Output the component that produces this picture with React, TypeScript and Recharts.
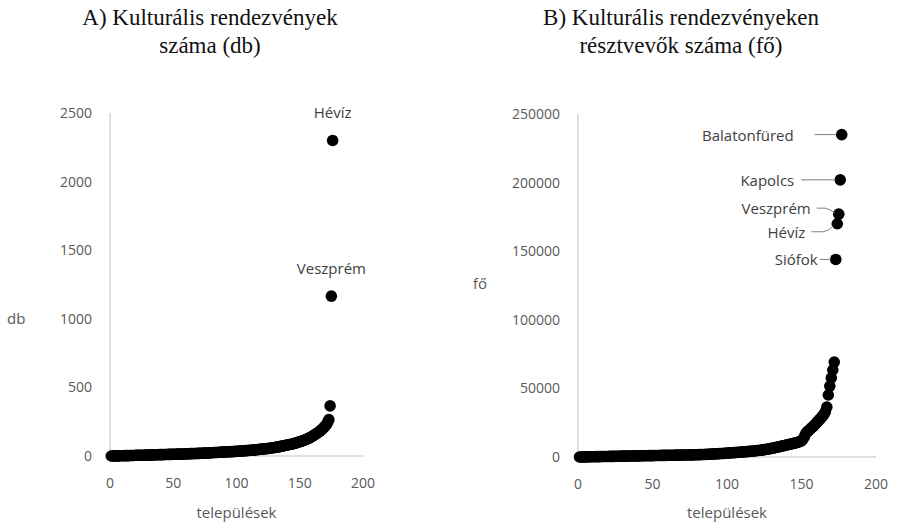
import React from 'react';
import { ScatterChart, Scatter, XAxis, YAxis, Label } from 'recharts';

// A) number of cultural events per settlement, sorted ascending (db)
const dbValues = [
  0, 0, 0, 1, 1, 1, 1, 2, 2, 2,
  2, 3, 3, 3, 3, 4, 4, 4, 4, 5,
  5, 5, 5, 6, 6, 6, 6, 7, 7, 7,
  7, 8, 8, 8, 8, 9, 9, 9, 10, 10,
  10, 10, 11, 11, 11, 12, 12, 12, 12, 13,
  13, 13, 14, 14, 14, 14, 15, 15, 15, 16,
  16, 16, 17, 17, 17, 18, 18, 18, 19, 19,
  19, 20, 20, 21, 21, 22, 22, 23, 23, 24,
  24, 25, 25, 26, 26, 27, 27, 28, 28, 29,
  29, 30, 30, 31, 31, 32, 32, 33, 34, 34,
  35, 35, 36, 37, 37, 38, 39, 39, 40, 41,
  42, 42, 43, 44, 45, 46, 47, 48, 49, 50,
  51, 52, 53, 54, 55, 56, 58, 59, 60, 62,
  63, 65, 66, 68, 70, 72, 74, 76, 78, 80,
  82, 84, 86, 88, 90, 92, 95, 98, 101, 104,
  107, 110, 113, 117, 121, 125, 129, 134, 139, 144,
  150, 156, 162, 168, 175, 182, 190, 198, 207, 217,
  228, 245, 265, 365, 1165, 2300,
];
const dbTopNames = ['Veszprém', 'Hévíz'];

// B) participants per settlement, sorted ascending (fő)
const foValues = [
  0, 0, 50, 80, 100, 120, 150, 170, 190, 210,
  230, 250, 270, 290, 310, 330, 350, 370, 390, 410,
  430, 450, 470, 490, 520, 550, 570, 590, 610, 630,
  650, 670, 690, 710, 730, 750, 770, 790, 810, 830,
  850, 870, 890, 910, 930, 950, 970, 990, 1010, 1030,
  1050, 1070, 1090, 1110, 1130, 1150, 1170, 1190, 1210, 1230,
  1250, 1270, 1290, 1310, 1330, 1350, 1370, 1390, 1410, 1430,
  1450, 1470, 1490, 1510, 1530, 1550, 1580, 1610, 1640, 1670,
  1700, 1740, 1780, 1820, 1870, 1920, 1970, 2020, 2080, 2140,
  2200, 2260, 2320, 2380, 2450, 2520, 2590, 2660, 2740, 2820,
  2900, 2980, 3060, 3140, 3220, 3300, 3380, 3460, 3540, 3600,
  3700, 3800, 3900, 4000, 4100, 4200, 4300, 4420, 4540, 4660,
  4780, 4900, 5050, 5200, 5350, 5500, 5700, 5900, 6100, 6300,
  6500, 6750, 7000, 7250, 7500, 7750, 8000, 8250, 8500, 8750,
  9000, 9250, 9500, 9750, 10000, 10300, 10600, 10900, 11300, 11800,
  13000, 15000, 17500, 18500, 19500, 20500, 21500, 22500, 23500, 24800,
  26000, 27200, 28400, 29600, 31000, 33000, 36400,
  45200, 51700, 57600, 63400, 69200,
  144000, 170000, 177000, 202000, 235000,
];
const foTopNames = ['Siófok', 'Hévíz', 'Veszprém', 'Kapolcs', 'Balatonfüred'];

const xTicks = [0, 50, 100, 150, 200];
const dbTicks = [0, 500, 1000, 1500, 2000, 2500];
const foTicks = [0, 50000, 100000, 150000, 200000, 250000];

const toPoints = (values: number[], names: string[]) =>
  values.map((v, i) => {
    const k = i - (values.length - names.length);
    return { x: i + 1, y: v, name: k >= 0 ? names[k] : '' };
  });

const dbData = toPoints(dbValues, dbTopNames);
const foData = toPoints(foValues, foTopNames);

const FONT = '"Open Sans", "Noto Sans", sans-serif';
const TICK = { fill: '#595959', fontSize: 14, fontFamily: FONT };
const AXIS = { stroke: '#bfbfbf' };
const R = 5.8;

// label placement of named points on B (relative to the dot)
const foCallouts: Record<string, { tx: number; ty: number; path: string }> = {
  'Balatonfüred': { tx: -48, ty: 0, path: 'M -27 0 L -6 0' },
  'Kapolcs': { tx: -46, ty: 0, path: 'M -39 0 L -5 0' },
  'Veszprém': { tx: -28, ty: -6, path: 'M -22 -6 L -14 -6 Q -8 -5 -4 -1' },
  'Hévíz': { tx: -32, ty: 8, path: 'M -26 8 L -14 8 Q -8 7 -4 2' },
  'Siófok': { tx: -18, ty: 0, path: 'M -16 0 L -5 0' },
};

const DotAbove = (p: any) => (
  <g>
    <circle cx={p.cx} cy={p.cy} r={R} fill="#000" />
    {p.payload.name && (
      <text x={p.cx} y={p.cy - 28} textAnchor="middle" dominantBaseline="central"
        fontSize={15} fontFamily={FONT} fill="#404040">{p.payload.name}</text>
    )}
  </g>
);

const DotCallout = (p: any) => {
  const c = foCallouts[p.payload.name];
  return (
    <g>
      <circle cx={p.cx} cy={p.cy} r={R} fill="#000" />
      {c && (
        <g transform={`translate(${p.cx},${p.cy})`}>
          <path d={c.path} stroke="#7f7f7f" strokeWidth={1} fill="none" />
          <text x={c.tx} y={c.ty} textAnchor="end" dominantBaseline="central"
            fontSize={15} fontFamily={FONT} fill="#404040">{p.payload.name}</text>
        </g>
      )}
    </g>
  );
};

const titleStyle: React.CSSProperties = {
  position: 'absolute',
  top: 4,
  width: 400,
  textAlign: 'center',
  fontFamily: '"Liberation Serif", "Times New Roman", serif',
  fontSize: 23,
  lineHeight: '28px',
  color: '#111',
};

export default function App() {
  return (
    <div style={{ position: 'fixed', left: 0, top: 0, width: 898, height: 522, background: '#fff', overflow: 'hidden' }}>
      <div style={{ ...titleStyle, left: 210 - 200 }}>A) Kulturális rendezvények<br />száma (db)</div>
      <div style={{ ...titleStyle, left: 681 - 200 }}>B) Kulturális rendezvényeken<br />résztvevők száma (fő)</div>

      <div style={{ position: 'absolute', left: 0, top: 0 }}>
        <ScatterChart width={449} height={522} margin={{ top: 113, right: 86, bottom: 0, left: 0 }}>
          <XAxis type="number" dataKey="x" domain={[0, 200]} ticks={xTicks} tickLine={false}
            axisLine={AXIS} tick={TICK} tickMargin={16} height={66}>
            <Label value="települések" position="insideBottom" offset={4} fill="#595959" fontSize={15} fontFamily={FONT} />
          </XAxis>
          <YAxis type="number" dataKey="y" domain={[0, 2500]} ticks={dbTicks} tickLine={false}
            axisLine={AXIS} tick={TICK} tickMargin={12} width={110}>
            <Label value="db" position="insideLeft" offset={7} dy={34} fill="#595959" fontSize={15} fontFamily={FONT} />
          </YAxis>
          <Scatter data={dbData} shape={DotAbove} isAnimationActive={false} />
        </ScatterChart>
      </div>

      <div style={{ position: 'absolute', left: 449, top: 0 }}>
        <ScatterChart width={449} height={522} margin={{ top: 114, right: 22, bottom: 0, left: 0 }}>
          <XAxis type="number" dataKey="x" domain={[0, 200]} ticks={xTicks} tickLine={false}
            axisLine={AXIS} tick={TICK} tickMargin={16} height={65}>
            <Label value="települések" position="insideBottom" offset={4} fill="#595959" fontSize={15} fontFamily={FONT} />
          </XAxis>
          <YAxis type="number" dataKey="y" domain={[0, 250000]} ticks={foTicks} tickLine={false}
            axisLine={AXIS} tick={TICK} tickMargin={12} width={129}>
            <Label value="fő" position="insideLeft" offset={24} dy={-2} fill="#595959" fontSize={15} fontFamily={FONT} />
          </YAxis>
          <Scatter data={foData} shape={DotCallout} isAnimationActive={false} />
        </ScatterChart>
      </div>
    </div>
  );
}
